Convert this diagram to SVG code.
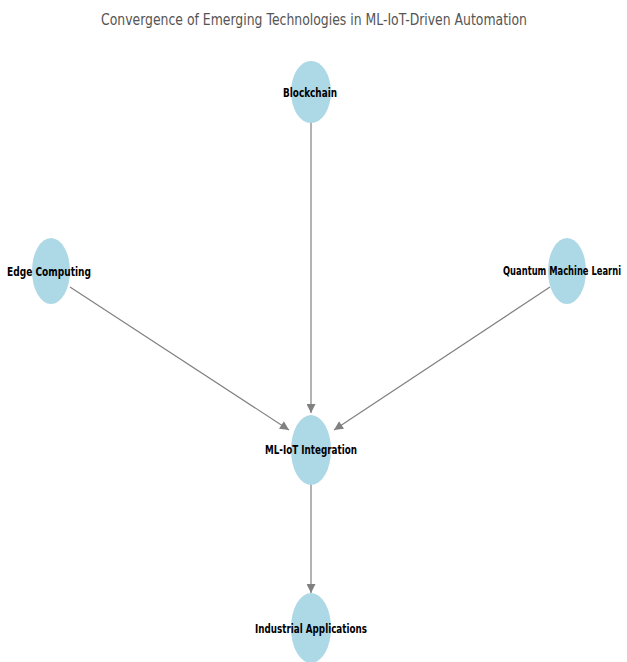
<svg xmlns="http://www.w3.org/2000/svg" width="627" height="662" viewBox="0 0 627 662">
<defs>
<marker id="arr" viewBox="0 0 10 10" refX="10" refY="5" markerWidth="10" markerHeight="9" markerUnits="userSpaceOnUse" orient="auto">
<path d="M0,0 L10,5 L0,10 z" fill="#808080"/>
</marker>
</defs>
<style>
.node ellipse{fill:#add8e6;}
.node text{font-family:"DejaVu Sans",sans-serif;font-weight:bold;font-size:13px;fill:#000;text-anchor:middle;dominant-baseline:central;}
.edges line{stroke:#808080;stroke-width:1.2;marker-end:url(#arr);}
.title{font-family:"DejaVu Sans",sans-serif;font-size:15px;fill:#555;text-anchor:middle;}
</style>
<rect width="627" height="662" fill="#fff"/>
<text class="title" x="314" y="25" textLength="426" lengthAdjust="spacingAndGlyphs">Convergence of Emerging Technologies in ML-IoT-Driven Automation</text>
<g class="edges">
<line x1="311" y1="121" x2="311" y2="413"/>
<line x1="70" y1="287" x2="289" y2="430"/>
<line x1="550" y1="287" x2="334" y2="430"/>
<line x1="311" y1="484" x2="311" y2="593"/>
</g>
<g id="blockchain" class="node">
<ellipse cx="311" cy="92" rx="20" ry="31"/>
<text x="310" y="92" textLength="54" lengthAdjust="spacingAndGlyphs">Blockchain</text>
</g>
<g id="edge-computing" class="node">
<ellipse cx="51" cy="271" rx="19" ry="33"/>
<text x="49" y="271" textLength="84" lengthAdjust="spacingAndGlyphs">Edge Computing</text>
</g>
<g id="quantum" class="node">
<ellipse cx="567" cy="271" rx="19" ry="33"/>
<text x="621" y="270" style="text-anchor:end" textLength="118" lengthAdjust="spacingAndGlyphs">Quantum Machine Learni</text>
</g>
<g id="ml-iot" class="node">
<ellipse cx="311" cy="450" rx="20" ry="35"/>
<text x="311" y="449" textLength="92" lengthAdjust="spacingAndGlyphs">ML-IoT Integration</text>
</g>
<g id="industrial" class="node">
<ellipse cx="311" cy="628" rx="20" ry="35"/>
<text x="311" y="628" textLength="112" lengthAdjust="spacingAndGlyphs">Industrial Applications</text>
</g>
</svg>
